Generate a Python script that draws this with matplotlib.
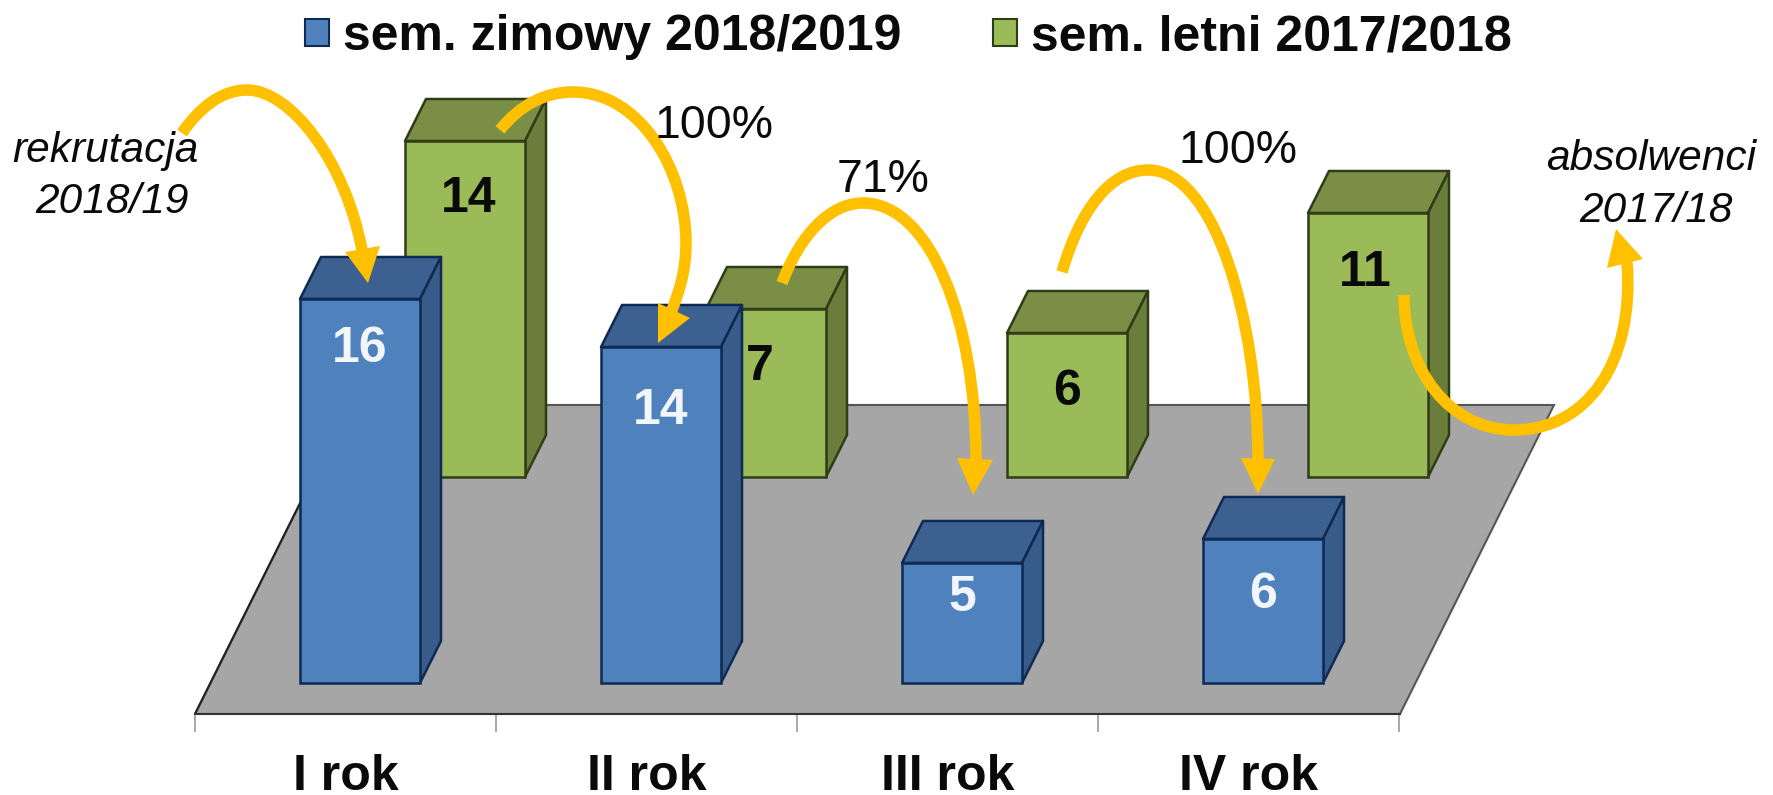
import numpy as np
import matplotlib
matplotlib.use('Agg')
import matplotlib.pyplot as plt
from matplotlib.patches import Patch, PathPatch, Polygon
from matplotlib.path import Path

plt.rcParams['font.family'] = ['Liberation Sans', 'DejaVu Sans']

W, H = 1773, 795
DPI = 100

# data
years = ['I rok', 'II rok', 'III rok', 'IV rok']
winter_label = 'sem. zimowy 2018/2019'
summer_label = 'sem. letni 2017/2018'
winter = [16, 14, 5, 6]
summer = [14, 7, 6, 11]

# colours
BLUE = ['#4F81BD', '#3C6090', '#375C89', '#0E2A52']   # face, top, side, edge
GREEN = ['#9BBB59', '#7A8F45', '#6A7D3A', '#2F3D17']
FLOOR = '#A6A6A6'
ARROW = '#FFC000'

# layout in pixels of the target, turned into axis units below
PX_X = 301.0    # one category
PX_Y = 24.0     # one student
X0 = 360        # centre of the first front bar
Y0 = 683        # front baseline
FLOOR_Y = 714
dx = 21 / PX_X
dy = 42 / PX_Y
bar_w = 120 / PX_X
back_dx = 105 / PX_X
back_base = (Y0 - 477) / PX_Y

fig = plt.figure(figsize=(W / DPI, H / DPI), dpi=DPI, facecolor='white')
ax = fig.add_axes([0, 1 - FLOOR_Y / H, 1, FLOOR_Y / H])
ax.set_xlim(-X0 / PX_X, (W - X0) / PX_X)
ax.set_ylim(-(FLOOR_Y - Y0) / PX_Y, Y0 / PX_Y)
ax.patch.set_alpha(0)


def draw_row(x, vals, base, cols, z):
    x = np.asarray(x, dtype=float)
    ax.bar(x, vals, bar_w, bottom=base, color=cols[0], edgecolor=cols[3], linewidth=1.8, zorder=z + 1)
    for xi, v in zip(x, vals):
        l, r = xi - bar_w / 2, xi + bar_w / 2
        t = base + v
        ax.add_patch(Polygon([(l, t), (r, t), (r + dx, t + dy), (l + dx, t + dy)],
                             fc=cols[1], ec=cols[3], lw=1.8, zorder=z, joinstyle='round'))
        ax.add_patch(Polygon([(r, base), (r, t), (r + dx, t + dy), (r + dx, base + dy)],
                             fc=cols[2], ec=cols[3], lw=1.8, zorder=z, joinstyle='round'))


pos = np.arange(len(years))

# floor
fy0 = ax.get_ylim()[0]
fy1 = (Y0 - 405) / PX_Y
left = (195 - X0) / PX_X
right = (1400 - X0) / PX_X
skew = 154 / PX_X
ax.add_patch(Polygon([(left, fy0), (right, fy0), (right + skew, fy1), (left + skew, fy1)],
                     fc=FLOOR, ec='#555555', lw=1.5, zorder=1))
ax.plot([left, left + skew], [fy0, fy1], color='#222222', lw=1.5, zorder=1)

draw_row(pos + back_dx, summer, back_base, GREEN, 2)
draw_row(pos, winter, 0, BLUE, 4)

# value labels
winter_lift = [50, 64, 35, 56]
summer_lift = [58, 58, 59, 60]
for p, v, d in zip(pos, winter, winter_lift):
    ax.text(p, v - d / PX_Y, str(v), color='#F2F5FA', fontsize=36, fontweight='bold',
            ha='center', va='center', zorder=7)
for p, v, d, off in zip(pos, summer, summer_lift, [4, -6, 0, -3]):
    ax.text(p + back_dx + off / PX_X, back_base + v - d / PX_Y, str(v), color='#0A0A0A',
            fontsize=36, fontweight='bold', ha='center', va='center', zorder=3.5)

# category axis
edges = left + np.arange(len(years) + 1)
for s in ['left', 'right', 'top']:
    ax.spines[s].set_visible(False)
ax.spines['bottom'].set_bounds(left, right)
ax.spines['bottom'].set_color('#333333')
ax.spines['bottom'].set_linewidth(1.5)
ax.yaxis.set_visible(False)
ax.set_xticks(edges)
ax.set_xticklabels([])
ax.tick_params(axis='x', which='major', length=13, width=1.2, color='#999999')
ax.set_xticks(edges[:-1] + 0.5, minor=True)
ax.set_xticklabels(years, minor=True, fontsize=36, fontweight='bold', color='#0A0A0A')
ax.tick_params(axis='x', which='minor', length=0, pad=28.5)

# legend
handles = [Patch(fc=BLUE[0], ec=BLUE[3], lw=1.5), Patch(fc=GREEN[0], ec=GREEN[3], lw=1.5)]
fig.legend(handles, [winter_label, summer_label], ncol=2, frameon=False,
           loc='upper left', bbox_to_anchor=(305 / W, 1 - 14 / H), borderaxespad=0, borderpad=0,
           prop={'weight': 'bold', 'size': 36}, labelcolor='#0A0A0A',
           handlelength=0.48, handleheight=0.46, handletextpad=0.28, columnspacing=1.84)

# overlay in pixel coordinates for the hand drawn notes
ov = fig.add_axes([0, 0, 1, 1], zorder=5)
ov.set_xlim(0, W)
ov.set_ylim(H, 0)
ov.axis('off')

M, C = Path.MOVETO, Path.CURVE4
arrows = [
    ([(182, 133), (200, 107), (222, 90), (247, 90), (290, 90), (345, 160), (362, 250)],
     [(368, 283), (345, 252), (380, 246)]),
    ([(500, 130), (520, 105), (545, 92), (573, 92), (640, 92), (686, 170), (686, 243), (686, 270), (680, 290), (670, 315)],
     [(658, 343), (658, 303), (690, 318)]),
    ([(782, 283), (800, 235), (830, 203), (863, 203), (930, 203), (976, 320), (976, 460)],
     [(973, 495), (957, 458), (993, 460)]),
    ([(1062, 272), (1080, 210), (1110, 170), (1148, 170), (1215, 170), (1258, 320), (1258, 460)],
     [(1258, 494), (1241, 458), (1275, 459)]),
    ([(1404, 295), (1404, 370), (1450, 430), (1514, 430), (1585, 430), (1635, 365), (1627, 262)],
     [(1616, 229), (1607, 268), (1643, 259)]),
]
for pts, head in arrows:
    codes = [M] + [C] * (len(pts) - 1)
    ov.add_patch(PathPatch(Path(pts, codes), fc='none', ec=ARROW, lw=8.3, capstyle='butt'))
    ov.add_patch(Polygon(head, fc=ARROW, ec='none'))

notes = [('rekrutacja', 105, 162, 'italic', 30.5), ('2018/19', 112, 213, 'italic', 30.5),
         ('absolwenci', 1651, 170, 'italic', 30.5), ('2017/18', 1656, 222, 'italic', 30.5),
         ('100%', 714, 138, 'normal', 33.5), ('71%', 883, 192, 'normal', 33.5),
         ('100%', 1238, 163, 'normal', 33.5)]
for s, x, y, st, fs in notes:
    ov.text(x, y, s, fontsize=fs, fontstyle=st, ha='center', va='baseline', color='#0A0A0A')

fig.savefig('out.png', dpi=DPI)
